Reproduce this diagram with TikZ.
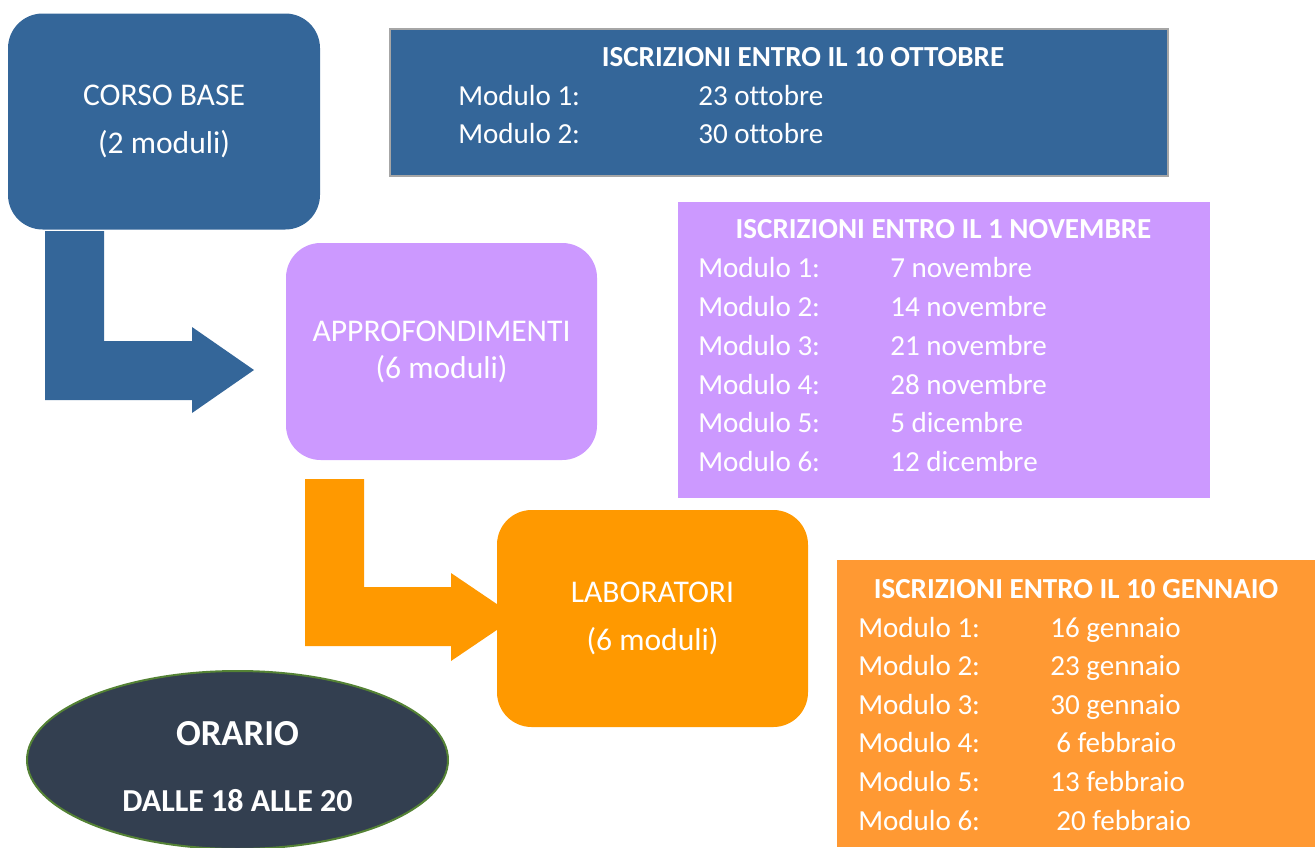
\documentclass[tikz,border=0pt]{standalone}
\usepackage{fontspec}
\setmainfont{Carlito}[Ligatures=NoCommon]
\usetikzlibrary{shapes.geometric}
\definecolor{cblue}{HTML}{346699}
\definecolor{cpurple}{HTML}{CC99FF}
\definecolor{corange}{HTML}{FF9900}
\definecolor{corange2}{HTML}{FF9933}
\definecolor{cslate}{HTML}{333F50}
\definecolor{cgreen}{HTML}{548235}
\definecolor{cgray}{HTML}{A6A6A6}
\begin{document}
\begin{tikzpicture}[x=0.75pt,y=-0.75pt,
  mainbox/.style={rounded corners=26pt, inner sep=0pt, align=center, text=white,
    font=\fontsize{23.7}{36}\selectfont},
  infobox/.style={inner sep=0pt, rectangle},
  ititle/.style={anchor=base, text=white, font=\bfseries\fontsize{21.8}{26}\selectfont, inner sep=0pt},
  itext/.style={anchor=base west, text=white, font=\fontsize{21.8}{26}\selectfont, inner sep=0pt},
]
\useasboundingbox (0,0) rectangle (1315,847);

% --- bent arrows (drawn first, behind boxes)
\fill[cblue] (45,231) -- (104,231) -- (104,341) -- (192,341) -- (192,327) -- (254,370)
  -- (192,413) -- (192,400) -- (45,400) -- cycle;
\fill[corange] (305,479) -- (364,479) -- (364,587) -- (451,587) -- (451,573) -- (516,617)
  -- (451,661) -- (451,646) -- (305,646) -- cycle;

% --- main boxes
\node[mainbox, fill=cblue, minimum width=234pt, minimum height=162pt] (corso) at (164,121.5)
  {CORSO BASE\\(2 moduli)};
\node[mainbox, fill=cpurple, minimum width=233.25pt, minimum height=162.75pt,
  font=\fontsize{23.7}{27.75}\selectfont] (appr) at (441.5,351.5)
  {APPROFONDIMENTI\\(6 moduli)};
\node[mainbox, fill=corange, minimum width=233.25pt, minimum height=162.75pt] (lab) at (652.5,618.5)
  {LABORATORI\\(6 moduli)};

% --- info box 1 (blue)
\node[infobox, fill=cblue, draw=cgray, line width=1pt, minimum width=583.5pt, minimum height=110.25pt] (info1) at (779,102.5) {};
\node[ititle] (t1) at (803,66.7) {ISCRIZIONI ENTRO IL 10 OTTOBRE};
\node[itext] (m11) at (458,105) {Modulo 1:};
\node[itext] (d11) at (698,105) {23 ottobre};
\node[itext] (m12) at (458,143.3) {Modulo 2:};
\node[itext] (d12) at (698,143.3) {30 ottobre};

% --- info box 2 (purple)
\node[infobox, fill=cpurple, minimum width=399pt, minimum height=222pt] (info2) at (944,350) {};
\node[ititle] (t2) at (943.5,238.3) {ISCRIZIONI ENTRO IL 1 NOVEMBRE};
\node[itext] (m21) at (698,277.7) {Modulo 1:};
\node[itext] (d21) at (890,277.7) {7 novembre};
\node[itext] (m22) at (698,316.5) {Modulo 2:};
\node[itext] (d22) at (890,316.5) {14 novembre};
\node[itext] (m23) at (698,355.3) {Modulo 3:};
\node[itext] (d23) at (890,355.3) {21 novembre};
\node[itext] (m24) at (698,394.1) {Modulo 4:};
\node[itext] (d24) at (890,394.1) {28 novembre};
\node[itext] (m25) at (698,432.9) {Modulo 5:};
\node[itext] (d25) at (890,432.9) {5 dicembre};
\node[itext] (m26) at (698,471.7) {Modulo 6:};
\node[itext] (d26) at (890,471.7) {12 dicembre};

% --- info box 3 (orange)
\node[infobox, fill=corange2, minimum width=358.5pt, minimum height=215.25pt] (info3) at (1076,703.5) {};
\node[ititle] (t3) at (1076,598.3) {ISCRIZIONI ENTRO IL 10 GENNAIO};
\node[itext] (m31) at (858,637.3) {Modulo 1:};
\node[itext] (d31) at (1050,637.3) {16 gennaio};
\node[itext] (m32) at (858,675.8) {Modulo 2:};
\node[itext] (d32) at (1050,675.8) {23 gennaio};
\node[itext] (m33) at (858,714.4) {Modulo 3:};
\node[itext] (d33) at (1050,714.4) {30 gennaio};
\node[itext] (m34) at (858,752.9) {Modulo 4:};
\node[itext] (d34) at (1056,752.9) {6 febbraio};
\node[itext] (m35) at (858,791.5) {Modulo 5:};
\node[itext] (d35) at (1050,791.5) {13 febbraio};
\node[itext] (m36) at (858,830) {Modulo 6:};
\node[itext] (d36) at (1056,830) {20 febbraio};

% --- orario ellipse
\node[ellipse, fill=cslate, draw=cgreen, line width=1.5pt, minimum width=315.75pt,
  minimum height=133.5pt, inner sep=0pt] (orario) at (237.5,760) {};
\node[anchor=base, text=white, inner sep=0pt, font=\bfseries\fontsize{27.5}{30}\selectfont] (o1) at (237.5,745) {ORARIO};
\node[anchor=base, text=white, inner sep=0pt, font=\bfseries\fontsize{24}{28}\selectfont] (o2) at (237.5,811.7) {DALLE 18 ALLE 20};
\end{tikzpicture}
\end{document}
